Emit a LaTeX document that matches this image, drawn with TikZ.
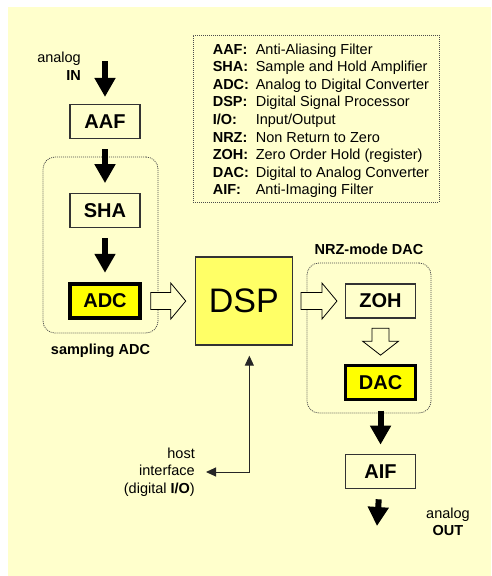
\documentclass[tikz,border=0pt]{standalone}
\usepackage{fontspec}
\setmainfont{Liberation Sans}
\usetikzlibrary{positioning,arrows.meta,calc}
\definecolor{paper}{HTML}{FFFFCC}
\definecolor{dspfill}{HTML}{FFFF66}
\definecolor{convfill}{HTML}{FFFF00}
\newcommand{\boxfont}{\fontsize{20}{24}\selectfont\bfseries}
\newcommand{\smallfont}{\fontsize{14.5}{17.6}\selectfont}
% block arrow: start, angle, length, head length
\newcommand{\hollowarrow}[4]{%
  \draw[hollow, shift={#1}, rotate=#2]
    (0,-8.5) -- (#3-#4,-8.5) -- (#3-#4,-18) -- (#3,0) -- (#3-#4,18) -- (#3-#4,8.5) -- (0,8.5) -- cycle;}

\begin{document}
\begin{tikzpicture}[
  x=1pt, y=-1pt,
  node distance=54pt,
  block/.style={draw=black!80, line width=1.2pt, fill=paper, minimum width=70pt, minimum height=34pt, inner sep=0pt, font=\boxfont},
  conv/.style={block, draw=black, line width=3.5pt, fill=convfill},
  dspbox/.style={draw=black!80, line width=1.2pt, fill=dspfill, minimum width=97pt, minimum height=88pt, font=\fontsize{34}{40}\selectfont},
  group/.style={draw=black!70, line width=0.8pt, dash pattern=on 1pt off 1pt, rounded corners=12pt, inner sep=0pt},
  legendbox/.style={group, rounded corners=0pt},
  caption/.style={font=\smallfont\bfseries, inner sep=0pt},
  note/.style={font=\smallfont, inner sep=0pt},
  fat/.style={line width=6pt, -{Triangle[width=20pt,length=19pt]}},
  hollow/.style={draw=black, line width=0.8pt, fill=paper, line join=miter},
  link/.style={draw=black!85, line width=1pt, {Triangle[width=9pt,length=10pt]}-{Triangle[width=9pt,length=10pt]}}
]
\fill[white] (0,0) rectangle (491,576);
\fill[paper] (8,7) rectangle (491,576);
\useasboundingbox (0,0) rectangle (491,576);

% legend
\node[legendbox, minimum width=246pt, minimum height=167pt] (legend) at (316,118.5) {};
\node[note, anchor=west] (legtext) at ([xshift=20pt,yshift=-2.5pt]legend.west) {%
  \begin{tabular}{@{}p{43pt}@{}l@{}}
  \textbf{AAF:} & Anti-Aliasing Filter\\
  \textbf{SHA:} & Sample and Hold Amplifier\\
  \textbf{ADC:} & Analog to Digital Converter\\
  \textbf{DSP:} & Digital Signal Processor\\
  \textbf{I/O:} & Input/Output\\
  \textbf{NRZ:} & Non Return to Zero\\
  \textbf{ZOH:} & Zero Order Hold (register)\\
  \textbf{DAC:} & Digital to Analog Converter\\
  \textbf{AIF:} & Anti-Imaging Filter
  \end{tabular}};

% groups
\node[group, minimum width=115pt, minimum height=176pt] (sampgrp) at (100.5,245) {};
\node[caption, below=10pt of sampgrp] (sampcap) {sampling ADC};
\node[group, minimum width=124pt, minimum height=150pt] (nrzgrp) at (369,338) {};
\node[caption, above=7.5pt of nrzgrp] (nrzcap) {NRZ-mode DAC};

% chain
\node[block] (aaf) at (105,121.5) {AAF};
\node[block, below=of aaf] (sha) {SHA};
\node[conv, below=of sha] (adc) {ADC};
\node[dspbox, right=53pt of adc] (dsp) {DSP};
\node[block, right=52pt of dsp] (zoh) {ZOH};
\node[conv, below=45pt of zoh] (dac) {DAC};
\node[block, below=53pt of dac] (aif) {AIF};

% labels
\node[note, align=right, anchor=east] (inlbl) at (81,66) {analog\\\textbf{IN}};
\node[note, align=center] (outlbl) at (448,522) {analog\\\textbf{OUT}};
\node[note, align=right, anchor=east] (host) at (195,472) {host\\interface\\(digital \textbf{I/O})};
\coordinate (src) at (105,61);
\coordinate (dst) at (377,526);

\draw[fat, shorten >=7pt] (src) -- (aaf);
\draw[fat, shorten <=10pt, shorten >=10pt] (aaf) -- (sha);
\draw[fat, shorten <=10pt, shorten >=9.5pt] (sha) -- (adc);
\draw[fat, shorten <=9.5pt, shorten >=9.5pt] (dac) -- (aif);
\draw[fat, shorten <=10pt] (aif) -- (dst);

\hollowarrow{([xshift=9pt]adc.east)}{0}{35}{15}
\hollowarrow{([xshift=8pt]dsp.east)}{0}{36}{15}
\hollowarrow{([yshift=-9.5pt]zoh.south)}{-90}{27}{14}

\draw[link, shorten <=10pt, shorten >=11pt] ([xshift=5.5pt]dsp.south) |- (host.east);
\end{tikzpicture}
\end{document}
